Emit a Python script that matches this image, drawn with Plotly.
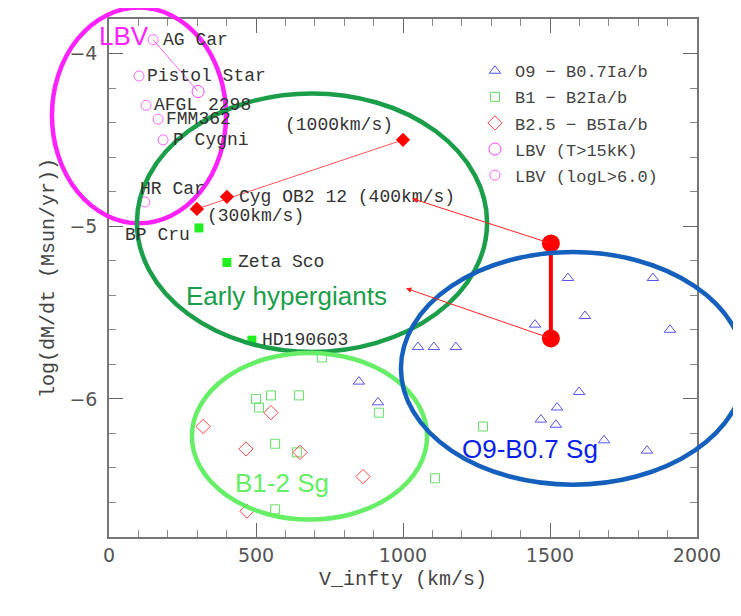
import plotly.graph_objects as go

# ---------------- data ----------------
# O9 - B0.7 Ia/b supergiants (open triangles)
o9_v = [1561, 1850, 1619, 1449, 1908, 1051, 1105, 1180, 1599, 1524, 1469, 1520, 1684, 1830, 850, 915]
o9_m = [-5.30, -5.30, -5.52, -5.57, -5.60, -5.70, -5.70, -5.70, -5.96, -6.05, -6.12, -6.15, -6.24, -6.30, -5.90, -6.02]

# B1 - B2 Ia/b (open squares)
b1_v = [724, 500, 551, 646, 510, 918, 565, 639, 1109, 565, 1272]
b1_m = [-5.76, -6.00, -5.98, -5.98, -6.05, -6.08, -6.26, -6.31, -6.46, -6.64, -6.16]

# B2.5 - B5 Ia/b (open diamonds)
b25_v = [320, 551, 466, 650, 864, 469]
b25_m = [-6.16, -6.08, -6.29, -6.31, -6.45, -6.65]

# LBVs
lbv_hot_v = [303]
lbv_hot_m = [-4.22]
lbv_names = ["AG Car", "Pistol Star", "AFGL 2298", "FMM362", "P Cygni", "HR Car"]
lbv_v = [150, 102, 126, 167, 184, 122]
lbv_m = [-3.92, -4.13, -4.30, -4.38, -4.50, -4.86]

# early hypergiants
hg_red_names = ["(300km/s)", "Cyg OB2 12 (400km/s)", "(1000km/s)"]
hg_red_v = [299, 401, 1000]
hg_red_m = [-4.90, -4.83, -4.50]
hg_green_names = ["BP Cru", "Zeta Sco", "HD190603"]
hg_green_v = [306, 401, 486]
hg_green_m = [-5.01, -5.21, -5.66]

# big red points and arrows
big_v = [1503, 1503]
big_m = [-5.10, -5.65]
arrow_head_v = [1031, 1010]
arrow_head_m = [-4.84, -5.36]

# region ellipses: (label, v_left, v_right, m_top, m_bottom)
regions = [
    ("LBV", -194, 398, -3.734, -4.983),
    ("Early hypergiants", 95, 1286, -4.231, -5.728),
    ("B1-2 Sg", 282, 1082, -5.734, -6.699),
    ("O9-B0.7 Sg", 993, 2163, -5.150, -6.497),
]
region_label_v = [51, 605, 588, 1432]
region_label_m = [-3.896, -5.405, -6.486, -6.289]

XR = [0, 2000]
YR = [-6.8, -3.8]

# ---------------- styles ----------------
LBL_FONT = dict(family="Liberation Mono", size=18, color="#333333")
region_colors = ["#ff22ff", "#1a9e4a", "#66ee66", "#1560bd"]
region_text_colors = ["#ff22ff", "#1a9e4a", "#66ee66", "#0a1eea"]

fig = go.Figure()

fig.add_trace(go.Scatter(x=o9_v, y=o9_m, mode="markers", name="O9 − B0.7Ia/b",
                         legendgroup="a",
                         marker=dict(symbol="triangle-up-open", size=10, color="#5555ee",
                                     line=dict(width=1))))
fig.add_trace(go.Scatter(x=b1_v, y=b1_m, mode="markers", name="B1 − B2Ia/b",
                         legendgroup="b",
                         marker=dict(symbol="square-open", size=9, color="#66dd66",
                                     line=dict(width=1))))
fig.add_trace(go.Scatter(x=b25_v, y=b25_m, mode="markers", name="B2.5 − B5Ia/b",
                         legendgroup="c",
                         marker=dict(symbol="diamond-open", size=11, color="#ff4444",
                                     line=dict(width=1))))
fig.add_trace(go.Scatter(x=lbv_hot_v, y=lbv_hot_m, mode="markers", name="LBV (T>15kK)",
                         legendgroup="d",
                         marker=dict(symbol="circle-open", size=12, color="#ff44ff",
                                     line=dict(width=1))))
fig.add_trace(go.Scatter(x=lbv_v, y=lbv_m, mode="markers", name="LBV (logL>6.0)",
                         legendgroup="e",
                         marker=dict(symbol="circle-open", size=10, color="#ff66ff",
                                     line=dict(width=1))))

# AG Car connection line
fig.add_trace(go.Scatter(x=[lbv_v[0], lbv_hot_v[0]], y=[lbv_m[0], lbv_hot_m[0]], mode="lines",
                         line=dict(color="#ff66ff", width=1), showlegend=False))
# hypergiant velocity line
fig.add_trace(go.Scatter(x=[hg_red_v[0], hg_red_v[2]], y=[hg_red_m[0], hg_red_m[2]], mode="lines",
                         line=dict(color="#ff5555", width=1), showlegend=False))
fig.add_trace(go.Scatter(x=hg_red_v, y=hg_red_m, mode="markers", showlegend=False,
                         marker=dict(symbol="diamond", size=11, color="#ff0000")))
fig.add_trace(go.Scatter(x=hg_green_v, y=hg_green_m, mode="markers", showlegend=False,
                         marker=dict(symbol="square", size=9, color="#22ee22")))
fig.add_trace(go.Scatter(x=big_v, y=big_m, mode="lines+markers", showlegend=False,
                         line=dict(color="#ff0000", width=4),
                         marker=dict(symbol="circle", size=18, color="#ff0000")))

annotations = []
lbv_offsets = [(8, 0, "left"), (6, 0, "left"), (6, 0, "left"), (6, 0, "left"), (8, 0, "left"), (-7, 13, "left")]
for v, m, t, (dx, dy, xa) in zip(lbv_v, lbv_m, lbv_names, lbv_offsets):
    annotations.append(dict(x=v, y=m, text=t, showarrow=False, xanchor=xa, xshift=dx, yshift=dy,
                            font=LBL_FONT))
red_offsets = [(8, -7, "left"), (10, 0, "left"), (-8, 15, "right")]
for v, m, t, (dx, dy, xa) in zip(hg_red_v, hg_red_m, hg_red_names, red_offsets):
    annotations.append(dict(x=v, y=m, text=t, showarrow=False, xanchor=xa, xshift=dx, yshift=dy,
                            font=LBL_FONT))
green_offsets = [(-7, -7, "right"), (9, 0, "left"), (8, 0, "left")]
for v, m, t, (dx, dy, xa) in zip(hg_green_v, hg_green_m, hg_green_names, green_offsets):
    annotations.append(dict(x=v, y=m, text=t, showarrow=False, xanchor=xa, xshift=dx, yshift=dy,
                            font=LBL_FONT))
for tv, tm, hv, hm in zip(big_v, big_m, arrow_head_v, arrow_head_m):
    annotations.append(dict(x=hv, y=hm, ax=tv, ay=tm, axref="x", ayref="y", xref="x", yref="y",
                            text="", showarrow=True, arrowhead=2, arrowsize=1.1, arrowwidth=1,
                            arrowcolor="#ff2222", standoff=0, startstandoff=0))
for (name, *_), v, m, c in zip(regions, region_label_v, region_label_m, region_text_colors):
    annotations.append(dict(x=v, y=m, text=name, showarrow=False,
                            font=dict(family="Liberation Sans", size=26, color=c)))


def xd(v):
    return (v - XR[0]) / (XR[1] - XR[0])


def yd(m):
    return (m - YR[0]) / (YR[1] - YR[0])


shapes = []
for (name, vl, vr, mt, mb), c in zip(regions, region_colors):
    shapes.append(dict(type="circle", xref="x domain", yref="y domain",
                       x0=xd(vl), x1=xd(vr), y0=yd(mb), y1=yd(mt),
                       line=dict(color=c, width=4.5)))
shapes.append(dict(type="line", xref="paper", yref="paper", x0=-0.3, x1=1.3, y0=-0.159, y1=-0.159,
                   line=dict(color="#fbecd6", width=3)))

axis_common = dict(showgrid=False, zeroline=False, showline=True, linecolor="#777777", linewidth=1.5,
                   mirror="ticks", ticks="inside", ticklen=14, tickwidth=1.3, tickcolor="#666666",
                   automargin=False,
                   tickfont=dict(family="DejaVu Sans", size=19, color="#555555"))

fig.update_layout(
    width=741, height=616,
    margin=dict(l=101, r=52, t=11, b=86.5),
    paper_bgcolor="white", plot_bgcolor="white",
    xaxis=dict(range=XR, dtick=500, tick0=0,
               minor=dict(dtick=100, ticks="inside", ticklen=7, tickcolor="#888888", tickwidth=1),
               title=dict(text="V_infty (km/s)", font=dict(family="Liberation Mono", size=20, color="#444444"),
                          standoff=6),
               ticklabelstandoff=0,
               **axis_common),
    yaxis=dict(range=YR, dtick=1, tick0=-4,
               minor=dict(dtick=0.2, ticks="inside", ticklen=7, tickcolor="#888888", tickwidth=1),
               title=dict(text="log(dM/dt (Msun/yr))", font=dict(family="Liberation Mono", size=20, color="#444444"),
                          standoff=9),
               ticklabelstandoff=6,
               **axis_common),
    legend=dict(x=0.6224, y=0.934, xanchor="left", yanchor="top", bgcolor="rgba(0,0,0,0)",
                font=dict(family="Liberation Mono", size=17, color="#444444"),
                tracegroupgap=1, itemwidth=30),
    annotations=annotations,
    shapes=shapes,
    showlegend=True,
)

fig.write_html("out.html")
